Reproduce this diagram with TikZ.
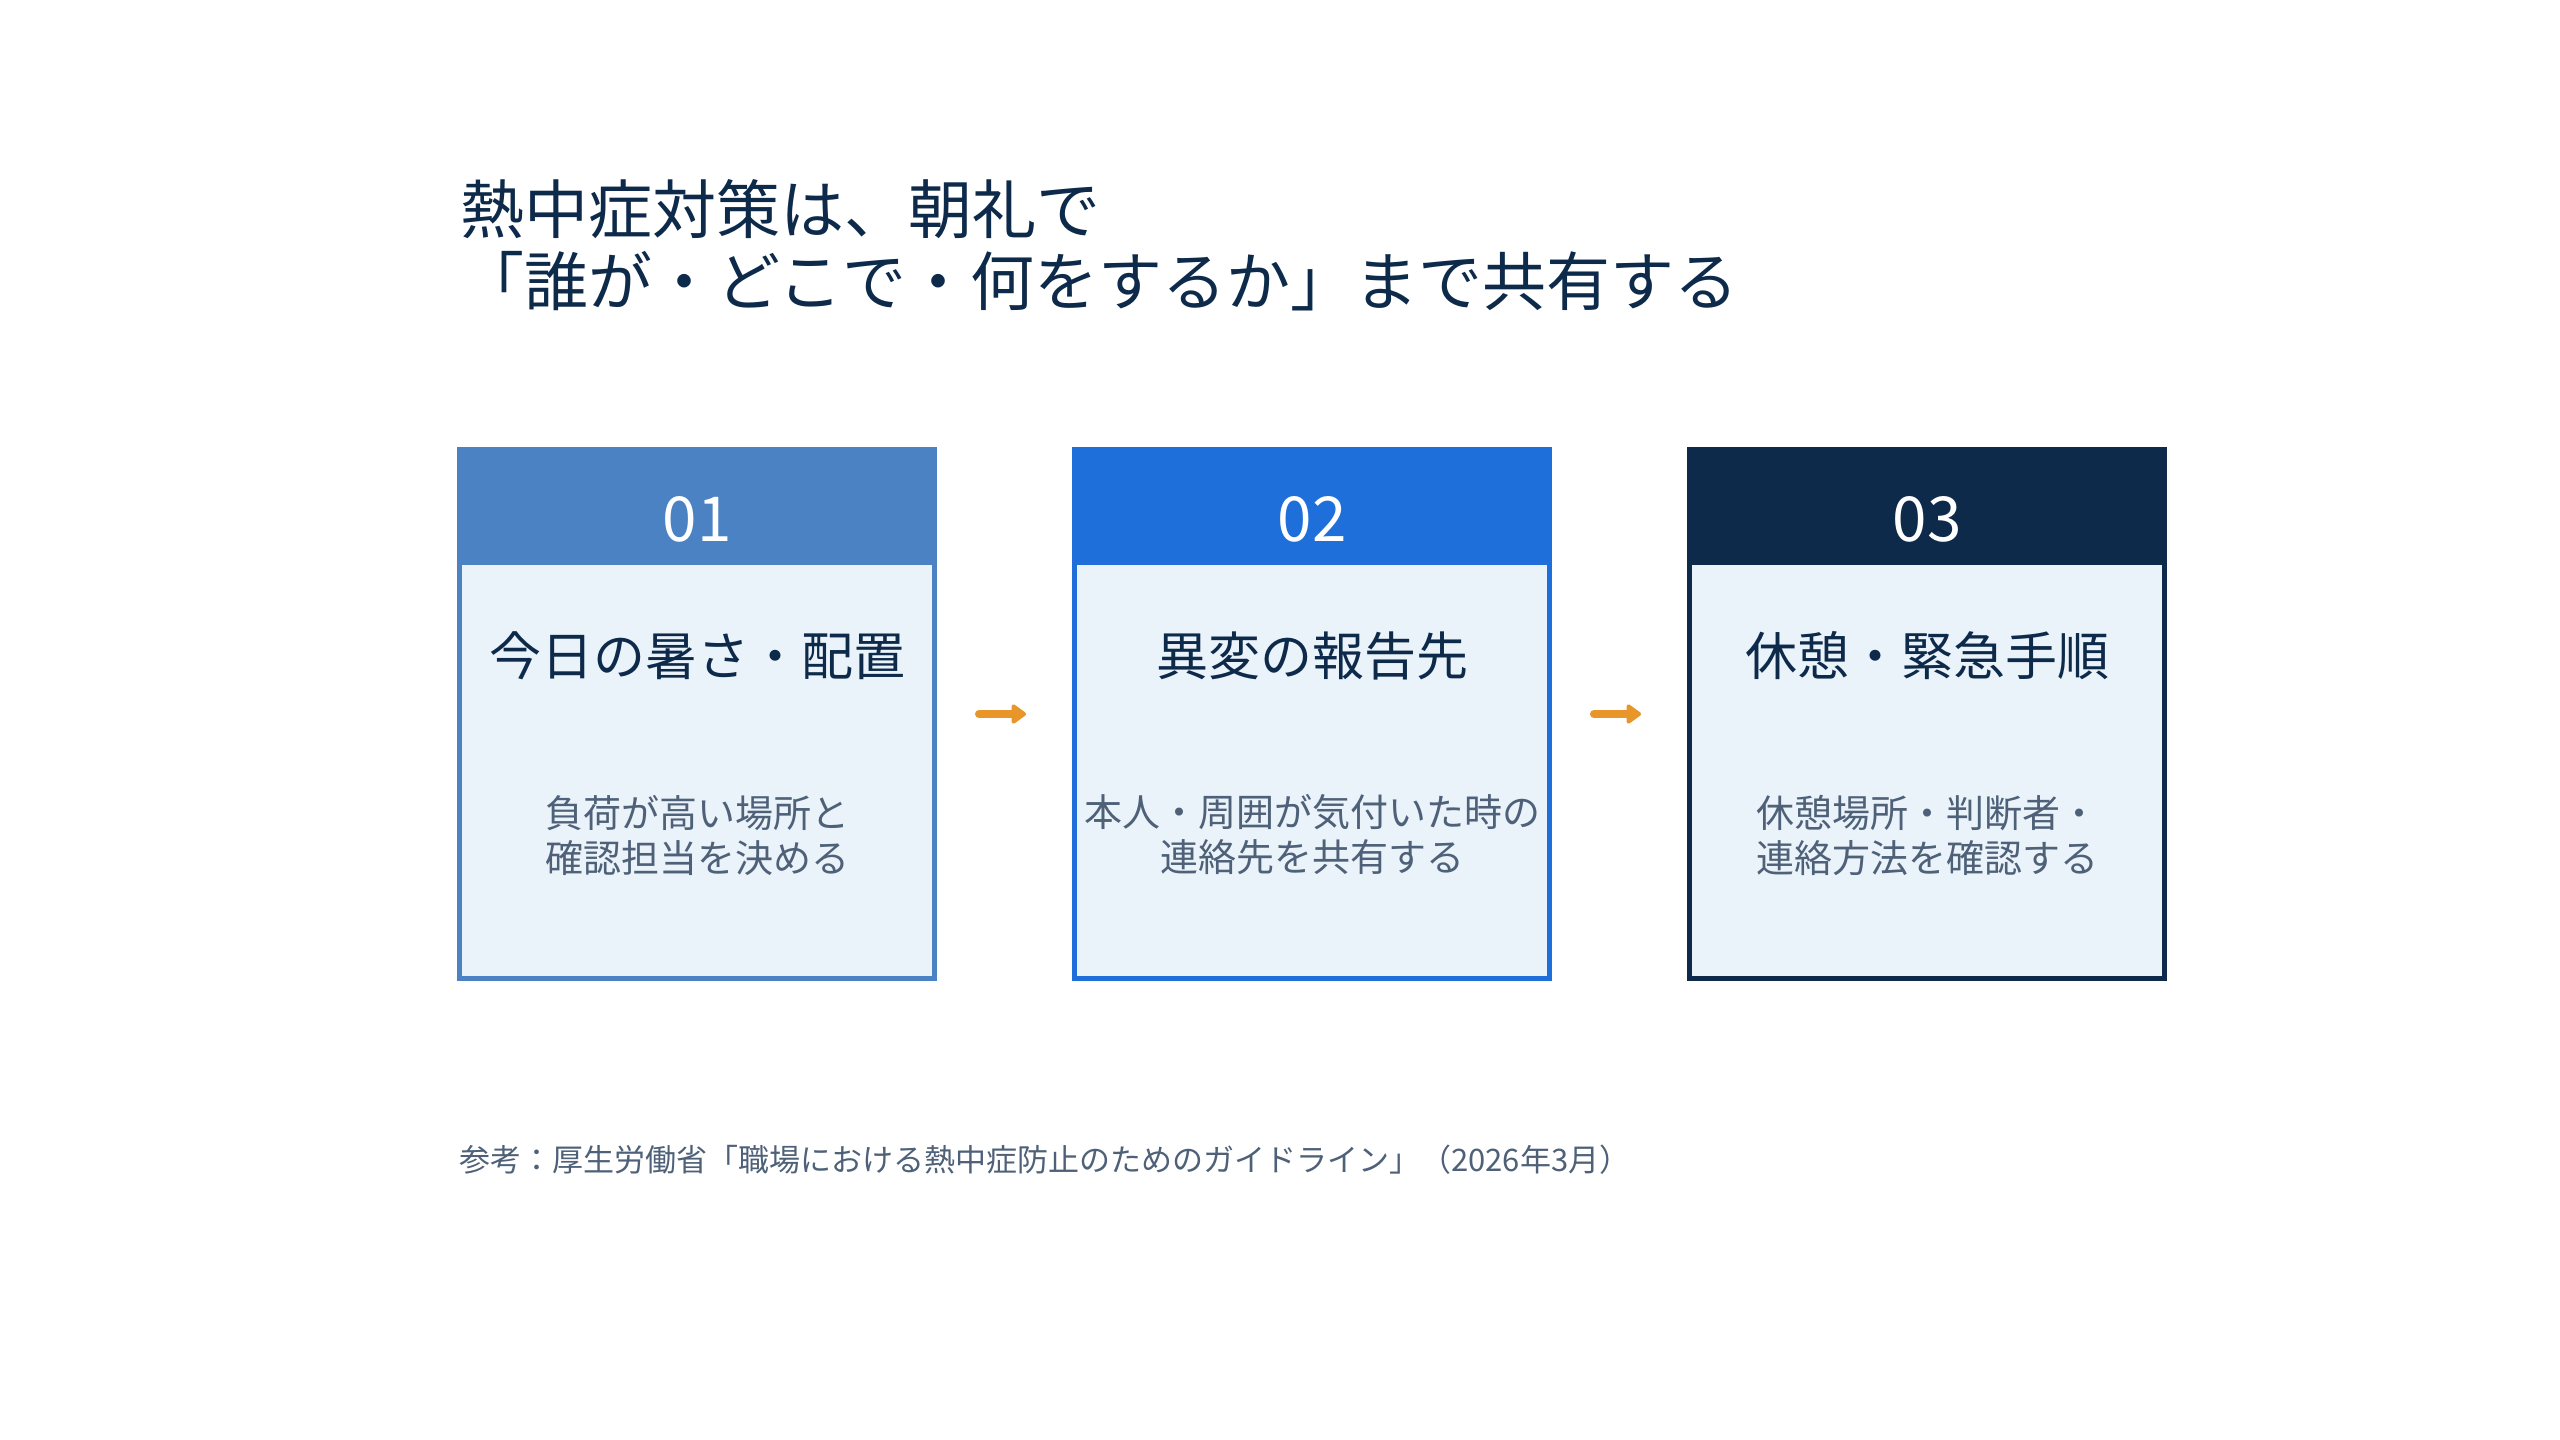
\documentclass[tikz,border=0pt]{standalone}
\usepackage{fontspec}
\setmainfont{Noto Sans CJK JP}
\usetikzlibrary{arrows.meta}
\definecolor{cA}{HTML}{4A82C4}
\definecolor{cB}{HTML}{1F6FDB}
\definecolor{cC}{HTML}{0D2A4A}
\definecolor{bodyfill}{HTML}{EAF2FA}
\definecolor{ink}{HTML}{0D2A4A}
\definecolor{muted}{HTML}{4E6178}
\definecolor{flowc}{HTML}{E8962A}
\tikzset{
  bodybox/.style={draw=#1, line width=5pt, fill=bodyfill, minimum width=475pt, minimum height=529pt, inner sep=0pt},
  headbox/.style={fill=#1, minimum width=480pt, minimum height=115pt, inner sep=0pt, anchor=north},
  headnum/.style={text=white, inner sep=0pt, font=\fontsize{62}{62}\selectfont},
  steptitle/.style={text=ink, font=\fontsize{52}{52}\selectfont, inner sep=0pt},
  stepdesc/.style={text=muted, align=center, font=\fontsize{38}{45}\selectfont, inner sep=0pt},
  flow/.style={draw=flowc, line width=8pt, line cap=round, -{Triangle[length=16pt,width=22pt,round]}},
  headline/.style={text=ink, anchor=west, inner sep=0pt, font=\fontsize{64}{72}\selectfont},
}
\begin{document}
\begin{tikzpicture}[x=1pt,y=-1pt]
\useasboundingbox (0,0) rectangle (2560,1440);
\fill[white] (0,0) rectangle (2560,1440);

\node[headline] (t1) at (460,209) {熱中症対策は、朝礼で};
\node[headline] (t2) at (460,281) {「誰が・どこで・何をするか」まで共有する};

\node[bodybox=cA] (b1) at (697,714) {};
\node[bodybox=cB] (b2) at (1312,714) {};
\node[bodybox=cC] (b3) at (1927,714) {};

\node[headbox=cA] (h1) at ([yshift=-2.5pt]b1.north) {};
\node[headbox=cB] (h2) at ([yshift=-2.5pt]b2.north) {};
\node[headbox=cC] (h3) at ([yshift=-2.5pt]b3.north) {};

\node[headnum] (n1) at (697,519) {01};
\node[headnum] (n2) at (1312,519) {02};
\node[headnum] (n3) at (1927,519) {03};

\node[steptitle] (s1) at (697,656) {今日の暑さ・配置};
\node[steptitle] (s2) at (1312,656) {異変の報告先};
\node[steptitle] (s3) at (1927,656) {休憩・緊急手順};

\node[stepdesc] (d1) at (697,835) {負荷が高い場所と\\確認担当を決める};
\node[stepdesc] (d2) at (1312,835) {本人・周囲が気付いた時の\\連絡先を共有する};
\node[stepdesc] (d3) at (1927,835) {休憩場所・判断者・\\連絡方法を確認する};

\draw[flow, shorten <=42pt, shorten >=46pt] (b1.east) -- (b2.west);
\draw[flow, shorten <=42pt, shorten >=46pt] (b2.east) -- (b3.west);

\node[text=muted, anchor=west, inner sep=0pt, font=\fontsize{31}{31}\selectfont] (src) at (459,1160) {参考：厚生労働省「職場における熱中症防止のためのガイドライン」（2026年3月）};
\end{tikzpicture}
\end{document}
